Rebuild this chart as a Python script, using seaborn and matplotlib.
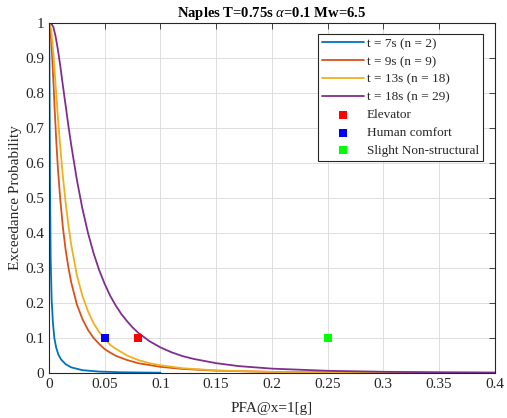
import matplotlib
matplotlib.use("Agg")
import matplotlib.pyplot as plt
import seaborn as sns

# Exceedance curves (PFA in g vs probability) for each duration window
x_t7 = [0, 0.0003, 0.0006, 0.0009, 0.0015, 0.0024, 0.0035, 0.0048, 0.0065, 0.0085,
        0.011, 0.015, 0.02, 0.03, 0.045, 0.065, 0.1]
y_t7 = [1.0, 0.93, 0.75, 0.55, 0.33, 0.21, 0.145, 0.10, 0.072, 0.052,
        0.038, 0.025, 0.016, 0.008, 0.004, 0.002, 0.0008]

x_t9 = [0, 0.001, 0.002, 0.003, 0.004, 0.005, 0.0065, 0.008, 0.010, 0.0125, 0.015,
        0.0175, 0.02, 0.025, 0.03, 0.035, 0.04, 0.045, 0.05, 0.055, 0.06, 0.07, 0.08,
        0.1, 0.12, 0.15, 0.2, 0.25, 0.3, 0.4]
y_t9 = [1.0, 0.99, 0.95, 0.895, 0.83, 0.76, 0.665, 0.585, 0.50, 0.415, 0.35,
        0.30, 0.258, 0.196, 0.154, 0.123, 0.100, 0.083, 0.068, 0.058, 0.049, 0.037,
        0.028, 0.0175, 0.0115, 0.0066, 0.0031, 0.0017, 0.001, 0.0004]

x_t13 = [0, 0.002, 0.004, 0.006, 0.008, 0.010, 0.0125, 0.015, 0.0175, 0.02, 0.025,
         0.03, 0.035, 0.04, 0.045, 0.05, 0.055, 0.06, 0.07, 0.08, 0.09, 0.1, 0.12,
         0.15, 0.2, 0.25, 0.3, 0.4]
y_t13 = [1.0, 0.98, 0.91, 0.82, 0.73, 0.65, 0.56, 0.485, 0.42, 0.365, 0.28,
         0.22, 0.176, 0.142, 0.117, 0.098, 0.080, 0.069, 0.05, 0.037, 0.028, 0.022,
         0.0135, 0.0072, 0.003, 0.0014, 0.0007, 0.00025]

x_t18 = [0, 0.002, 0.004, 0.006, 0.008, 0.010, 0.0125, 0.015, 0.0175, 0.02, 0.025,
         0.03, 0.035, 0.04, 0.045, 0.05, 0.055, 0.06, 0.065, 0.07, 0.075, 0.08, 0.09,
         0.1, 0.11, 0.12, 0.13, 0.15, 0.17, 0.2, 0.25, 0.3, 0.35, 0.4]
y_t18 = [1.0, 0.998, 0.987, 0.96, 0.923, 0.88, 0.82, 0.762, 0.704, 0.65, 0.552,
         0.469, 0.40, 0.342, 0.294, 0.254, 0.220, 0.192, 0.168, 0.148, 0.130, 0.115,
         0.091, 0.073, 0.059, 0.048, 0.040, 0.028, 0.0197, 0.0124, 0.0062, 0.0034,
         0.002, 0.0012]

# Performance thresholds (PFA, probability)
thr_names = ["Elevator", "Human comfort", "Slight Non-structural"]
thr_pfa = [0.08, 0.05, 0.25]
thr_prob = [0.1, 0.1, 0.1]
thr_colors = ["#FF0000", "#0000FF", "#00FF00"]

curve_labels = ["t = 7s (n = 2)", "t = 9s (n = 9)", "t = 13s (n = 18)", "t = 18s (n = 29)"]
curve_colors = ["#0072BD", "#D95319", "#EDB120", "#7E2F8E"]

x_ticks = [0, 0.05, 0.1, 0.15, 0.2, 0.25, 0.3, 0.35, 0.4]
x_tick_labels = ["0", "0.05", "0.1", "0.15", "0.2", "0.25", "0.3", "0.35", "0.4"]
y_ticks = [0, 0.1, 0.2, 0.3, 0.4, 0.5, 0.6, 0.7, 0.8, 0.9, 1.0]
y_tick_labels = ["0", "0.1", "0.2", "0.3", "0.4", "0.5", "0.6", "0.7", "0.8", "0.9", "1"]

sns.set_style("white")
plt.rcParams["font.family"] = ["Liberation Serif", "DejaVu Serif"]
plt.rcParams["mathtext.fontset"] = "custom"
plt.rcParams["mathtext.it"] = "Liberation Serif:italic"
plt.rcParams["mathtext.rm"] = "Liberation Serif"
plt.rcParams["mathtext.bf"] = "Liberation Serif:bold"

fig = plt.figure(figsize=(5.07, 4.18), dpi=100)
ax = fig.add_axes([0.0966, 0.1077, 0.8794, 0.838])

curves = [(x_t7, y_t7), (x_t9, y_t9), (x_t13, y_t13), (x_t18, y_t18)]
for (xs, ys), lab, col in zip(curves, curve_labels, curve_colors):
    sns.lineplot(x=xs, y=ys, ax=ax, color=col, linewidth=1.3, label=lab,
                 sort=False, estimator=None)

for name, px, py, col in zip(thr_names, thr_pfa, thr_prob, thr_colors):
    sns.scatterplot(x=[px], y=[py], ax=ax, marker="s", color=col, s=30,
                    linewidth=0, label=name, zorder=5)

ax.set_xlim(0, 0.4)
ax.set_ylim(0, 1)
ax.set_xticks(x_ticks)
ax.set_xticklabels(x_tick_labels)
ax.set_yticks(y_ticks)
ax.set_yticklabels(y_tick_labels)
ax.grid(True, color="#dedede", linewidth=0.7)
ax.set_axisbelow(True)
for sp in ax.spines.values():
    sp.set_visible(True)
    sp.set_color("#262626")
    sp.set_linewidth(0.8)
ax.tick_params(direction="in", length=4, width=0.6, colors="#262626",
               labelsize=11, top=True, right=True, labelcolor="#262626")

ax.set_xlabel("PFA@x=1[g]", fontsize=11, color="#262626", labelpad=8)
ax.set_ylabel("Exceedance Probability", fontsize=11, color="#262626", labelpad=2)
ax.set_title(r"Naples T=0.75s $\alpha$=0.1 Mw=6.5", fontsize=10.5, fontweight="bold",
             color="black", pad=4)

leg = ax.legend(loc="upper right", bbox_to_anchor=(0.973, 0.968), fontsize=9.5,
                frameon=True, fancybox=False, edgecolor="#262626", framealpha=1,
                handlelength=3.2, handletextpad=0.2, borderpad=0.3,
                labelspacing=0.42, borderaxespad=0)
leg.get_frame().set_linewidth(0.8)

fig.savefig("out.png", dpi=100)
